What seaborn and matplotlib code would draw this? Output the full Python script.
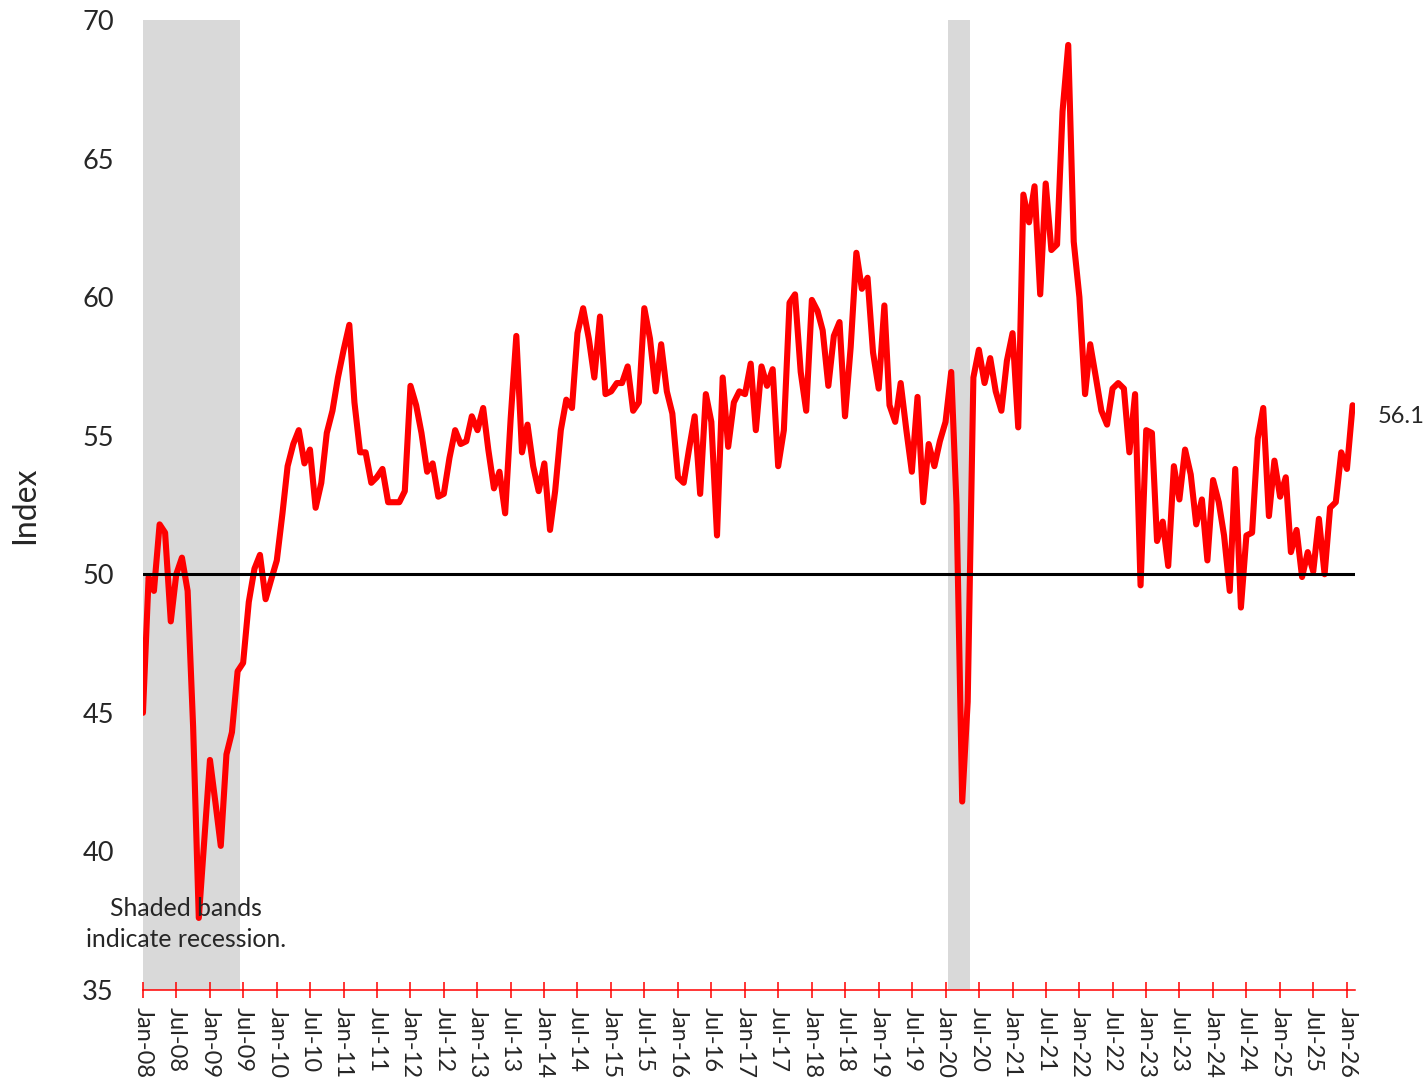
import pandas as pd
import matplotlib.pyplot as plt
import seaborn as sns

# Monthly index values, Jan-08 .. Feb-26
values_2008 = [45.0, 49.9, 49.4, 51.8, 51.5, 48.3, 50.0, 50.6, 49.4, 44.5, 37.6, 40.4]
values_2009 = [43.3, 41.7, 40.2, 43.5, 44.3, 46.5, 46.8, 49.0, 50.2, 50.7, 49.1, 49.8]
values_2010 = [50.5, 52.2, 53.9, 54.7, 55.2, 54.0, 54.5, 52.4, 53.3, 55.1, 55.9, 57.1]
values_2011 = [58.1, 59.0, 56.2, 54.4, 54.4, 53.3, 53.5, 53.8, 52.6, 52.6, 52.6, 53.0]
values_2012 = [56.8, 56.1, 55.1, 53.7, 54.0, 52.8, 52.9, 54.2, 55.2, 54.7, 54.8, 55.7]
values_2013 = [55.2, 56.0, 54.5, 53.1, 53.7, 52.2, 55.6, 58.6, 54.4, 55.4, 53.9, 53.0]
values_2014 = [54.0, 51.6, 53.0, 55.2, 56.3, 56.0, 58.7, 59.6, 58.5, 57.1, 59.3, 56.5]
values_2015 = [56.6, 56.9, 56.9, 57.5, 55.9, 56.2, 59.6, 58.5, 56.6, 58.3, 56.6, 55.8]
values_2016 = [53.5, 53.3, 54.5, 55.7, 52.9, 56.5, 55.5, 51.4, 57.1, 54.6, 56.2, 56.6]
values_2017 = [56.5, 57.6, 55.2, 57.5, 56.8, 57.4, 53.9, 55.2, 59.8, 60.1, 57.3, 55.9]
values_2018 = [59.9, 59.5, 58.8, 56.8, 58.6, 59.1, 55.7, 58.2, 61.6, 60.3, 60.7, 58.0]
values_2019 = [56.7, 59.7, 56.1, 55.5, 56.9, 55.2, 53.7, 56.4, 52.6, 54.7, 53.9, 54.8]
values_2020 = [55.5, 57.3, 52.5, 41.8, 45.4, 57.1, 58.1, 56.9, 57.8, 56.6, 55.9, 57.7]
values_2021 = [58.7, 55.3, 63.7, 62.7, 64.0, 60.1, 64.1, 61.7, 61.9, 66.7, 69.1, 62.0]
values_2022 = [60.0, 56.5, 58.3, 57.1, 55.9, 55.4, 56.7, 56.9, 56.7, 54.4, 56.5, 49.6]
values_2023 = [55.2, 55.1, 51.2, 51.9, 50.3, 53.9, 52.7, 54.5, 53.6, 51.8, 52.7, 50.5]
values_2024 = [53.4, 52.6, 51.4, 49.4, 53.8, 48.8, 51.4, 51.5, 54.9, 56.0, 52.1, 54.1]
values_2025 = [52.8, 53.5, 50.8, 51.6, 49.9, 50.8, 50.1, 52.0, 50.0, 52.4, 52.6, 54.4]
values_2026 = [53.8, 56.1]

index_values = (values_2008 + values_2009 + values_2010 + values_2011 + values_2012
                + values_2013 + values_2014 + values_2015 + values_2016 + values_2017
                + values_2018 + values_2019 + values_2020 + values_2021 + values_2022
                + values_2023 + values_2024 + values_2025 + values_2026)

months = pd.date_range("2008-01-01", periods=len(index_values), freq="MS")
df = pd.DataFrame({"Month": months, "Index": index_values})

# Recession months (first and last month shaded)
recessions = [("2008-01-01", "2009-06-01"), ("2020-02-01", "2020-05-01")]

tick_months = pd.date_range("2008-01-01", "2026-01-01", freq="6MS")
tick_labels = [d.strftime("%b-%y") for d in tick_months]

sns.set_style("white")
plt.rcParams["font.family"] = ["Lato", "DejaVu Sans"]

fig = plt.figure(figsize=(14.28, 10.81), dpi=100)
ax = fig.add_axes([0.1001, 0.0842, 0.8489, 0.8973])

half_month = pd.Timedelta(days=15)
for start, end in recessions:
    ax.axvspan(pd.Timestamp(start) - half_month, pd.Timestamp(end) + half_month,
               color="#D9D9D9", lw=0, zorder=0)

sns.lineplot(data=df, x="Month", y="Index", color="#FF0000", linewidth=4.4, ax=ax, zorder=2)
ax.lines[-1].set_solid_joinstyle("round")
ax.axhline(50, color="black", lw=2.2, zorder=3)

ax.set_xlim(pd.Timestamp("2008-01-01"), pd.Timestamp("2026-02-15"))
ax.set_ylim(35, 70)
ax.set_yticks(range(35, 71, 5))
ax.set_xticks(tick_months)
ax.set_xticklabels(tick_labels, rotation=270)
ax.set_xlabel("")

ax.tick_params(axis="x", direction="inout", length=11.5, width=1.1, color="#FF0000",
               pad=6.5, labelsize=17, bottom=True)
ax.tick_params(axis="y", length=0, pad=21, labelsize=19.5)

for side in ["left", "top", "right"]:
    ax.spines[side].set_visible(False)
ax.spines["bottom"].set_color("#FF0000")
ax.spines["bottom"].set_linewidth(1.1)
ax.grid(False)

ax.set_ylabel("Index", fontsize=23, va="center")
ax.yaxis.set_label_coords(-0.0973, 0.5)

last = df.iloc[-1]
ax.annotate(f"{last['Index']:.1f}", xy=(last["Month"], last["Index"]), xytext=(25, -11),
            textcoords="offset pixels", ha="left", va="center", fontsize=17)

ax.text(0.0355, 0.068, "Shaded bands\nindicate recession.", transform=ax.transAxes,
        ha="center", va="center", fontsize=17.8, linespacing=1.45)

fig.savefig("out.png", dpi=100)
